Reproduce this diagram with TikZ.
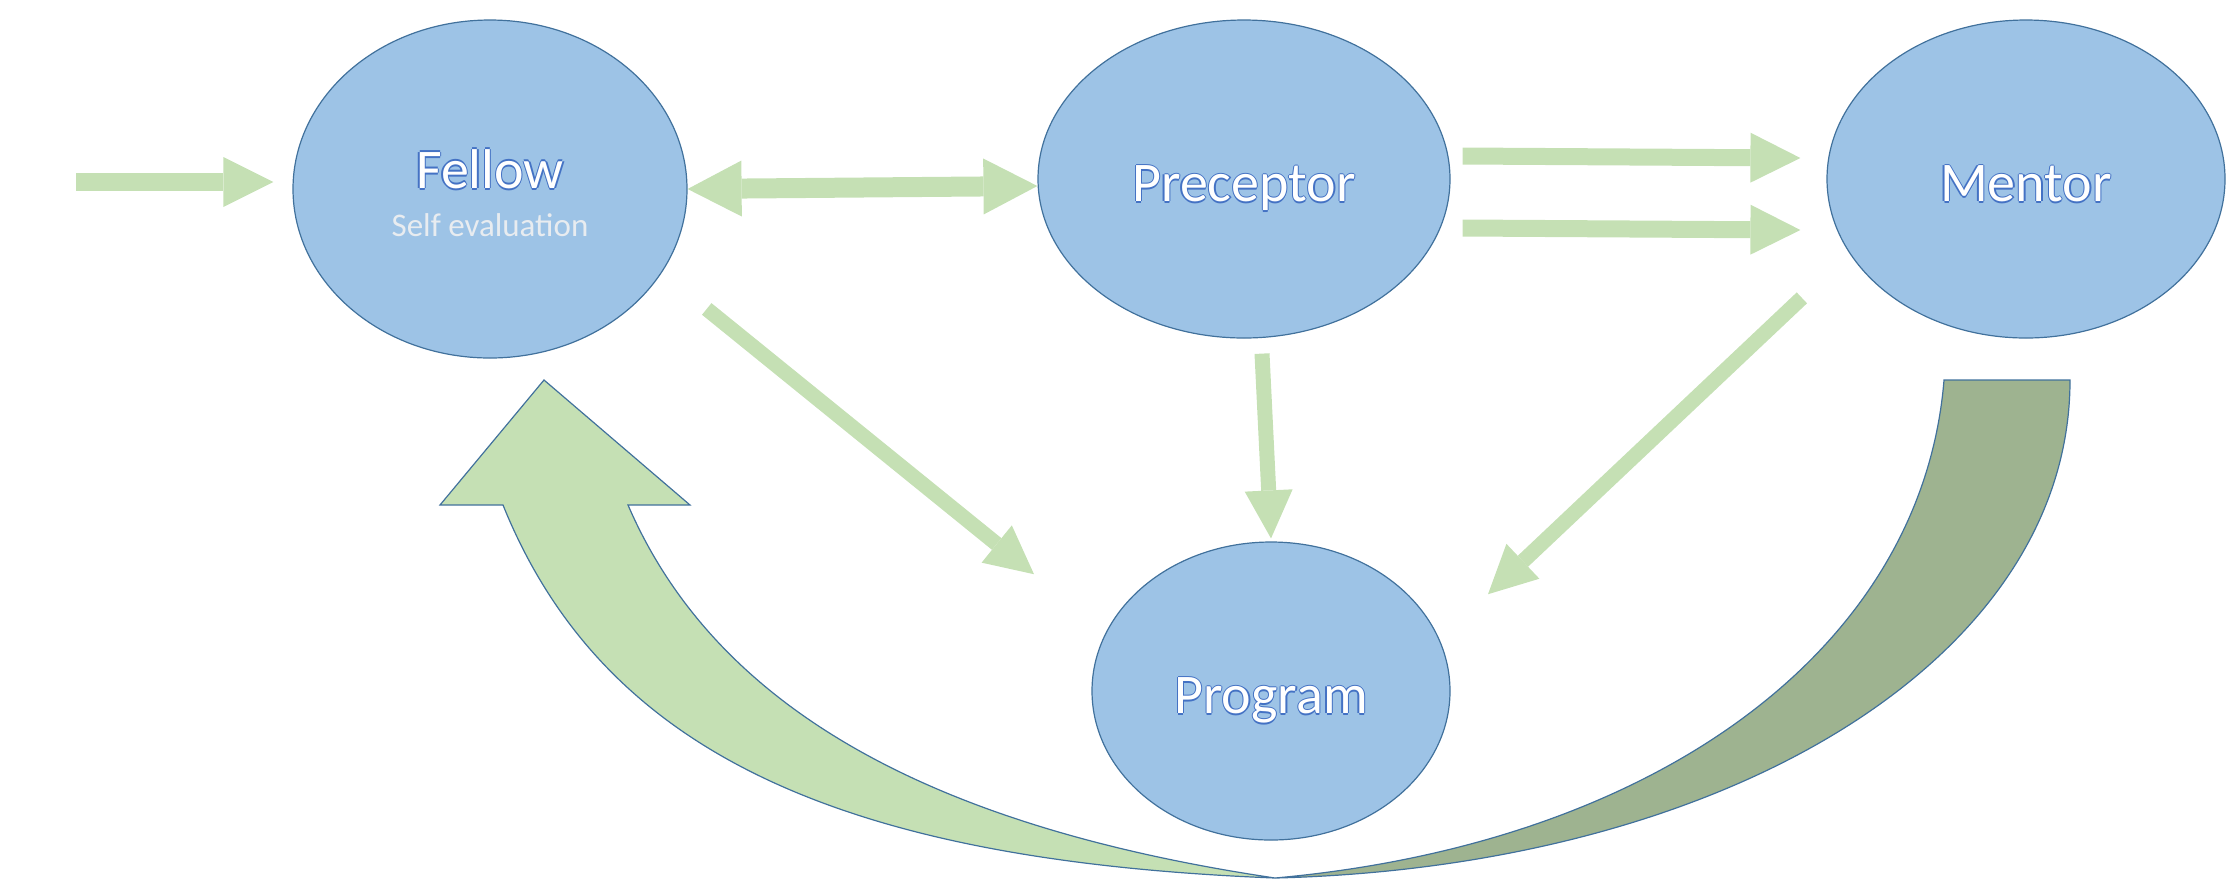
\documentclass[tikz,border=0pt]{standalone}
\usepackage{fontspec}
\setmainfont{Carlito}
\usetikzlibrary{arrows.meta,calc,shapes.geometric}
\definecolor{bf}{RGB}{157, 195, 230}
\definecolor{bd}{RGB}{65, 113, 156}
\definecolor{gl}{RGB}{197, 224, 180}
\definecolor{gd}{RGB}{158, 179, 144}
\definecolor{tl}{RGB}{68, 114, 196}
\definecolor{st}{RGB}{232, 236, 240}
% white letters with a thin blue rim
\newcommand\outl[1]{\leavevmode\rlap{\color{tl}\raisebox{-1.2pt}{#1}}\rlap{\color{tl}\kern0.6pt#1}\rlap{\color{tl}\kern-0.6pt#1}\rlap{\color{tl}\raisebox{0.6pt}{#1}}\rlap{\color{tl}\raisebox{-0.6pt}{#1}}\textcolor{white}{#1}}

\begin{document}
\begin{tikzpicture}[scale=0.5,
  blob/.style={ellipse, inner sep=0pt, text height=22.5pt, text depth=0pt, fill=bf, line width=0.6pt, draw=bd, align=center, font=\fontsize{28}{24}\selectfont},
  fat/.style={line width=#1, draw=gl},
  tipA/.style={-{Triangle[width=25pt, length=25pt, line width=0pt]}},
  tipB/.style={-{Triangle[width=24pt, length=24pt, line width=0pt]}}]
\useasboundingbox (0pt, 0pt) rectangle (2226pt, -880pt);
\node (fellow) [blob, text height=47pt, minimum width=197pt, minimum height=169pt] at (490.0pt, -189.0pt) {\outl{Fellow}\\{\fontsize{16.5}{20}\selectfont\color{st}Self evaluation}};
\node (preceptor) [blob, minimum width=206pt, minimum height=159pt] at (1244.0pt, -179.0pt) {\outl{Preceptor}};
\node (mentor) [blob, minimum width=199pt, minimum height=159pt] at (2026.0pt, -179.0pt) {\outl{Mentor}};
\node (program) [blob, minimum width=179pt, minimum height=149pt] at (1271.0pt, -691.0pt) {\outl{Program}};
\coordinate (in) at (76.0pt, -182.0pt);
% big return arrow
\draw [line width=0.6pt, draw=bd, fill=gd] (1944pt, -380pt) -- (2070pt, -380pt) .. controls (2070pt, -660pt) and (1725pt, -867pt) .. (1275pt, -878pt) .. controls (1655pt, -844pt) and (1922pt, -650pt) .. (1944pt, -380pt) -- cycle;
\draw [line width=0.6pt, draw=bd, fill=gl] (628pt, -505pt) .. controls (719pt, -716pt) and (945pt, -829pt) .. (1275pt, -878pt) .. controls (845pt, -861pt) and (604pt, -755pt) .. (503pt, -505pt) -- (440pt, -505pt) -- (544pt, -380pt) -- (690pt, -505pt) -- cycle;
% straight arrows
\draw [fat=9pt, tipA, shorten >=9.5pt] (in) to (in -| fellow.west);
\draw [fat=10pt, {Triangle[width=28pt, length=27pt, line width=0pt]}-{Triangle[width=28pt, length=27pt, line width=0pt]}] (fellow.east) to ($(preceptor.west)+(0pt, -7pt)$);
\draw [fat=8.5pt, tipA] ($(preceptor.east)+(12pt, 23pt)$) to ($(mentor.west)+(-26pt, 21pt)$);
\draw [fat=8.5pt, tipA] ($(preceptor.east)+(12pt, -49pt)$) to ($(mentor.west)+(-26pt, -51pt)$);
\draw [fat=7.5pt, tipB] ($(fellow.south east)+(77pt, 0pt)$) to ($(program.north west)+(-110pt, 11pt)$);
\draw [fat=7.5pt, tipB] ($(preceptor.south)+(18pt, -15pt)$) to ($(program.north)+(0pt, 3pt)$);
\draw [fat=7.5pt, tipB] ($(mentor.south west)+(-83pt, -6pt)$) to ($(program.north east)+(90pt, -9pt)$);
\end{tikzpicture}
\end{document}
